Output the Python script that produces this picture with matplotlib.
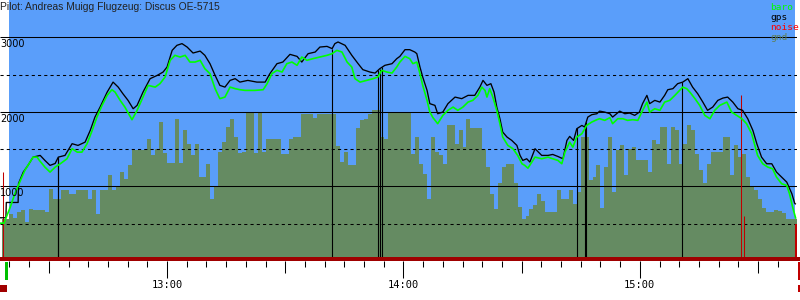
import numpy as np
import matplotlib
matplotlib.use("Agg")
import matplotlib.pyplot as plt
from matplotlib.patches import Rectangle

# time unit: minutes after 12:00
baro_t = [17.6, 18.6, 20.2, 21.4, 22.6, 23.9, 25.2, 26.0, 27.0, 27.6,
          29.0, 30.3, 31.6, 32.9, 34.6, 35.9, 37.2, 38.4, 39.7, 41.0,
          42.2, 43.5, 44.8, 46.0, 46.8, 48.1, 49.3, 51.1, 52.4, 53.9,
          55.2, 57.0, 58.2, 59.5, 60.8, 62.0, 63.3, 64.6, 65.8, 67.1,
          68.4, 69.6, 70.9, 72.2, 73.4, 74.7, 76.0, 77.3, 78.5, 79.8,
          82.3, 84.4, 85.4, 86.6, 87.9, 89.2, 90.4, 91.7, 93.0, 94.2,
          95.5, 97.0, 98.8, 100.6, 101.9, 103.1, 104.4, 105.7, 106.9, 107.7,
          109.0, 110.7, 112.3, 113.5, 114.5, 115.8, 117.1, 118.3, 119.1, 120.4,
          121.6, 122.4, 123.4, 124.2, 124.9, 126.0, 126.7, 127.5, 128.7, 130.0,
          131.3, 132.6, 133.8, 135.1, 136.4, 137.6, 138.9, 139.9, 140.7, 141.2,
          141.9, 142.7, 143.7, 144.5, 145.2, 146.5, 147.8, 149.0, 150.1, 150.8,
          151.6, 152.6, 153.4, 155.1, 156.7, 157.9, 159.2, 160.2, 161.0, 162.2,
          163.0, 164.0, 165.3, 166.5, 167.8, 169.1, 169.8, 171.1, 172.4, 173.1,
          174.4, 175.7, 176.9, 178.2, 179.5, 180.5, 181.8, 182.5, 183.8, 185.1,
          186.3, 187.6, 188.9, 190.1, 190.9, 191.9, 192.7, 194.0, 195.2, 196.5,
          197.8, 199.0, 200.3, 202.1, 203.3, 204.6, 205.9, 207.1, 208.4, 209.2,
          209.9, 211.2, 212.5, 213.7, 214.7, 216.0, 217.3, 218.0, 218.8, 219.6]
baro_alt = [507, 507, 722, 906, 1058, 1215, 1326, 1393, 1393, 1349,
            1259, 1192, 1259, 1304, 1371, 1506, 1460, 1460, 1573, 1751,
            1930, 2087, 2221, 2297, 2265, 2154, 2064, 1895, 2020, 2198,
            2355, 2332, 2378, 2467, 2691, 2758, 2735, 2758, 2668, 2668,
            2691, 2579, 2512, 2311, 2177, 2198, 2332, 2311, 2297, 2288,
            2288, 2297, 2378, 2512, 2557, 2534, 2646, 2668, 2624, 2735,
            2691, 2713, 2735, 2758, 2780, 2825, 2802, 2668, 2601, 2445,
            2399, 2422, 2445, 2467, 2557, 2534, 2520, 2601, 2668, 2744,
            2713, 2646, 2668, 2512, 2355, 2154, 1997, 1922, 1841, 1953,
            2020, 2064, 2020, 2064, 2131, 2154, 2221, 2332, 2288, 2198,
            2311, 2198, 2020, 1841, 1662, 1550, 1506, 1416, 1304, 1282,
            1245, 1326, 1393, 1371, 1393, 1371, 1349, 1304, 1460, 1594,
            1527, 1662, 1707, 1818, 1863, 1895, 1908, 1886, 1922, 1841,
            1908, 1908, 1886, 1895, 1886, 1997, 2131, 1997, 2042, 2020,
            2131, 2154, 2221, 2288, 2332, 2311, 2265, 2177, 2087, 1953,
            1908, 2020, 2087, 2131, 1997, 1953, 1908, 1841, 1707, 1550,
            1416, 1304, 1259, 1237, 1125, 1036, 1013, 902, 722, 566]

gps_t = [17.6, 19.1, 19.2, 22.2, 22.3, 23.5, 24.7, 26.0, 27.8, 29.0,
         30.3, 31.6, 32.4, 34.1, 35.9, 37.4, 39.2, 40.5, 41.7, 43.0,
         44.8, 46.3, 47.6, 48.8, 50.1, 51.4, 52.4, 53.9, 55.7, 57.5,
         59.0, 60.0, 61.3, 62.5, 63.8, 65.1, 66.6, 68.4, 69.6, 70.9,
         72.2, 73.4, 74.7, 76.0, 77.3, 78.5, 80.5, 82.8, 84.9, 86.1,
         87.9, 89.4, 91.2, 93.0, 94.2, 95.8, 97.6, 98.8, 100.6, 101.9,
         102.6, 103.4, 105.2, 106.9, 108.5, 109.7, 111.5, 112.8, 114.0, 115.3,
         117.1, 118.3, 119.1, 120.4, 121.6, 122.9, 123.4, 124.2, 124.9, 126.0,
         126.7, 128.0, 128.7, 130.0, 131.3, 133.1, 134.8, 136.4, 138.1, 139.4,
         140.2, 141.2, 142.2, 143.0, 143.7, 144.5, 145.2, 146.3, 147.5, 148.8,
         149.6, 150.3, 151.3, 152.1, 153.4, 155.1, 156.7, 157.9, 159.2, 160.5,
         161.5, 162.2, 163.2, 164.0, 165.3, 166.0, 166.8, 167.8, 169.1, 169.8,
         171.1, 172.4, 173.1, 174.9, 176.2, 177.4, 178.7, 179.9, 180.7, 181.8,
         182.5, 183.8, 185.1, 186.3, 187.1, 188.4, 189.6, 190.9, 192.2, 193.4,
         194.7, 196.0, 197.2, 198.5, 199.8, 201.1, 202.3, 203.6, 204.9, 206.1,
         207.4, 208.7, 209.7, 210.9, 212.2, 213.5, 214.7, 216.0, 217.3, 218.6,
         219.3, 219.6]
gps_alt = [580, 580, 785, 785, 1040, 1192, 1282, 1393, 1416, 1349,
           1282, 1308, 1393, 1416, 1573, 1550, 1594, 1751, 1930, 2064,
           2265, 2399, 2332, 2243, 2154, 2042, 2087, 2265, 2445, 2489,
           2534, 2601, 2825, 2892, 2915, 2869, 2789, 2815, 2758, 2646,
           2489, 2355, 2332, 2422, 2445, 2399, 2422, 2399, 2399, 2512,
           2646, 2668, 2771, 2744, 2668, 2780, 2802, 2869, 2878, 2848,
           2915, 2937, 2892, 2758, 2646, 2566, 2534, 2520, 2579, 2624,
           2646, 2713, 2744, 2834, 2834, 2802, 2780, 2601, 2467, 2288,
           2110, 2087, 1975, 1997, 2110, 2198, 2177, 2221, 2221, 2332,
           2422, 2355, 2378, 2265, 2064, 1908, 1729, 1662, 1617, 1550,
           1416, 1349, 1371, 1326, 1506, 1416, 1416, 1429, 1402, 1371,
           1617, 1671, 1617, 1774, 1818, 1796, 1930, 1962, 1975, 2010,
           1997, 1975, 1930, 2010, 1975, 1984, 1953, 1997, 2110, 2221,
           2110, 2154, 2131, 2221, 2297, 2311, 2378, 2399, 2445, 2332,
           2243, 2131, 2020, 2064, 2154, 2185, 2198, 2131, 2042, 2020,
           1908, 1751, 1573, 1393, 1304, 1304, 1192, 1125, 1058, 902,
           776, 760]

# gps signal dropouts (altitude falls to 0)
gps_dropout_t = [32.3, 32.4, 101.9, 113.6, 114.0, 114.5, 164.1, 166.0, 166.4, 190.6]

# engine noise level (shown in altitude scale)
noise_t = [18.4, 205.8, 206.5, 219.6]
noise_val = [1188, 2221, 610, 490]
noise_lw = [0.75, 0.75, 0.75, 1.5]

# ground elevation, one value per minute starting at 12:18
gnd_start = 18
gnd_alt = [566, 566, 633, 580, 655, 678, 521, 700, 687, 687,
           678, 655, 969, 835, 835, 955, 955, 902, 902, 955,
           955, 955, 835, 955, 633, 955, 955, 1147, 946, 991,
           1192, 1103, 1282, 1492, 1492, 1492, 1492, 1640, 1416, 1506,
           1863, 1447, 1313, 1313, 1908, 1313, 1751, 1573, 1416, 1573,
           1125, 1125, 1304, 835, 991, 1460, 1595, 1800, 1908, 1662,
           1447, 1460, 1997, 1997, 1447, 1997, 1460, 1640, 1640, 1640,
           1640, 1439, 1439, 1640, 1667, 1667, 1966, 1966, 1966, 1922,
           1966, 1966, 1966, 1966, 1966, 1537, 1326, 1460, 1282, 1282,
           1787, 1895, 1908, 1975, 2020, 2020, 1667, 1640, 1997, 1997,
           1997, 1997, 1997, 1997, 1439, 1667, 1304, 1170, 832, 1662,
           1460, 1416, 1300, 1818, 1818, 1573, 1751, 1528, 1908, 1780,
           1780, 1780, 1500, 1259, 902, 700, 1040, 1259, 1300, 1304,
           1050, 723, 566, 600, 700, 750, 900, 800, 655, 655,
           655, 946, 835, 835, 946, 768, 924, 1665, 1665, 1080,
           1125, 1282, 707, 1259, 1667, 924, 1483, 1550, 1147, 1506,
           1530, 1349, 1349, 1349, 1192, 1627, 1573, 1796, 1796, 1304,
           1800, 1756, 1304, 1573, 1818, 1751, 1439, 1215, 1040, 1304,
           1460, 1460, 1460, 1662, 1662, 1147, 1550, 1393, 1439, 1125,
           991, 946, 835, 707, 655, 655, 678, 666, 643, 566,
           566, 566]

solid_levels = [1000, 2000, 3000]
dashed_levels = [500, 1500, 2500]
hour_ticks = [60, 120, 180]
hour_labels = ["13:00", "14:00", "15:00"]
half_hour_ticks = [30, 90, 150, 210]
minor_ticks = list(range(20, 220, 5))

title = "Pilot: Andreas Muigg Flugzeug: Discus OE-5715"
legend_names = ["baro", "gps", "noise", "gnd"]

SKY = "#5a9efa"
GND = "#658b62"
BARO = "#00ff00"
NOISE_C = "#c00000"
BAR_RED = "#a00000"
legend_colors = [BARO, "black", "#ff0000", "#5f7f52"]

plt.rcParams["lines.solid_capstyle"] = "butt"

fig = plt.figure(figsize=(8, 3), dpi=100)
fig.patch.set_facecolor("white")
ax = fig.add_axes([0, 39 / 300, 797 / 800, 261 / 300])
ax.set_xlim(17.6, 219.9)
ax.set_ylim(0, 3500)
ax.set_facecolor(SKY)
for s in ax.spines.values():
    s.set_visible(False)

# white strips where no sky is drawn
ax.axvspan(17.6, 20.0, color="white", lw=0, zorder=0.5)
ax.axvspan(219.4, 219.9, color="white", lw=0, zorder=0.5)

# ground
edges = gnd_start + np.arange(len(gnd_alt) + 1)
ax.stairs(gnd_alt, edges, baseline=0, fill=True, color=GND, lw=0, zorder=1)

# grid lines
for v in solid_levels:
    ax.axhline(v, color="black", lw=0.75, zorder=2)
for v in dashed_levels:
    ax.axhline(v, color="black", lw=0.75, ls=(0, (3, 3)), zorder=2)

# y labels
for v in solid_levels:
    ax.annotate(str(v), xy=(0, v), xycoords=("axes fraction", "data"),
                xytext=(0, -1.2), textcoords="offset points",
                ha="left", va="top", fontsize=7, family="DejaVu Sans", zorder=6)

# noise
for t, v, w in zip(noise_t, noise_val, noise_lw):
    ax.vlines(t, 0, v, color=NOISE_C, lw=w, zorder=3)

# gps dropouts
drop_top = np.interp(gps_dropout_t, gps_t, gps_alt)
ax.vlines(gps_dropout_t, 0, drop_top, color="black", lw=0.8, zorder=3)

# lines
ax.plot(gps_t, gps_alt, color="black", lw=0.95, zorder=4)
ax.plot(baro_t, baro_alt, color=BARO, lw=1.2, zorder=5)

# x ticks
major_pos = sorted(hour_ticks + half_hour_ticks)
major_lab = [hour_labels[hour_ticks.index(p)] if p in hour_ticks else "" for p in major_pos]
ax.set_xticks(major_pos)
ax.set_xticklabels(major_lab, family="DejaVu Sans Mono", fontsize=7.5)
ax.set_xticks(minor_ticks, minor=True)
ax.tick_params(axis="x", which="major", direction="out", length=12.5, width=0.75,
               color="black", pad=1.5)
ax.tick_params(axis="x", which="minor", direction="out", length=4, width=0.75,
               color="black")
for tk, lab in zip(ax.xaxis.get_major_ticks(), major_lab):
    if not lab:
        tk.tick1line.set_markersize(8.3)
ax.set_yticks([])

# red baseline bar
fig.add_artist(Rectangle((0, 39 / 300), 1, 4 / 300, transform=fig.transFigure,
                         color=BAR_RED, lw=0, zorder=10))
# flight start/end markers
fig.add_artist(Rectangle((5 / 800, 20 / 300), 3 / 800, 18 / 300, transform=fig.transFigure,
                         color="#00c000", lw=0))
fig.add_artist(Rectangle((0, 8 / 300), 7 / 800, 7 / 300, transform=fig.transFigure,
                         color=BAR_RED, lw=0))
fig.add_artist(Rectangle((798 / 800, 20 / 300), 2 / 800, 18 / 300, transform=fig.transFigure,
                         color="#c00000", lw=0))
fig.add_artist(Rectangle((798 / 800, 8 / 300), 2 / 800, 7 / 300, transform=fig.transFigure,
                         color="#c00000", lw=0))

# title
fig.text(0.0, 1 - 7 / 300, title, ha="left", va="center", fontsize=7.4,
         family="Liberation Sans", color="#222222")

# legend
for i, (name, c) in enumerate(zip(legend_names, legend_colors)):
    fig.text(770 / 800, 1 - (7 + 10 * i) / 300, name, ha="left", va="center",
             fontsize=6.8, family="DejaVu Sans Mono", color=c)

fig.savefig("out.png", dpi=100)
